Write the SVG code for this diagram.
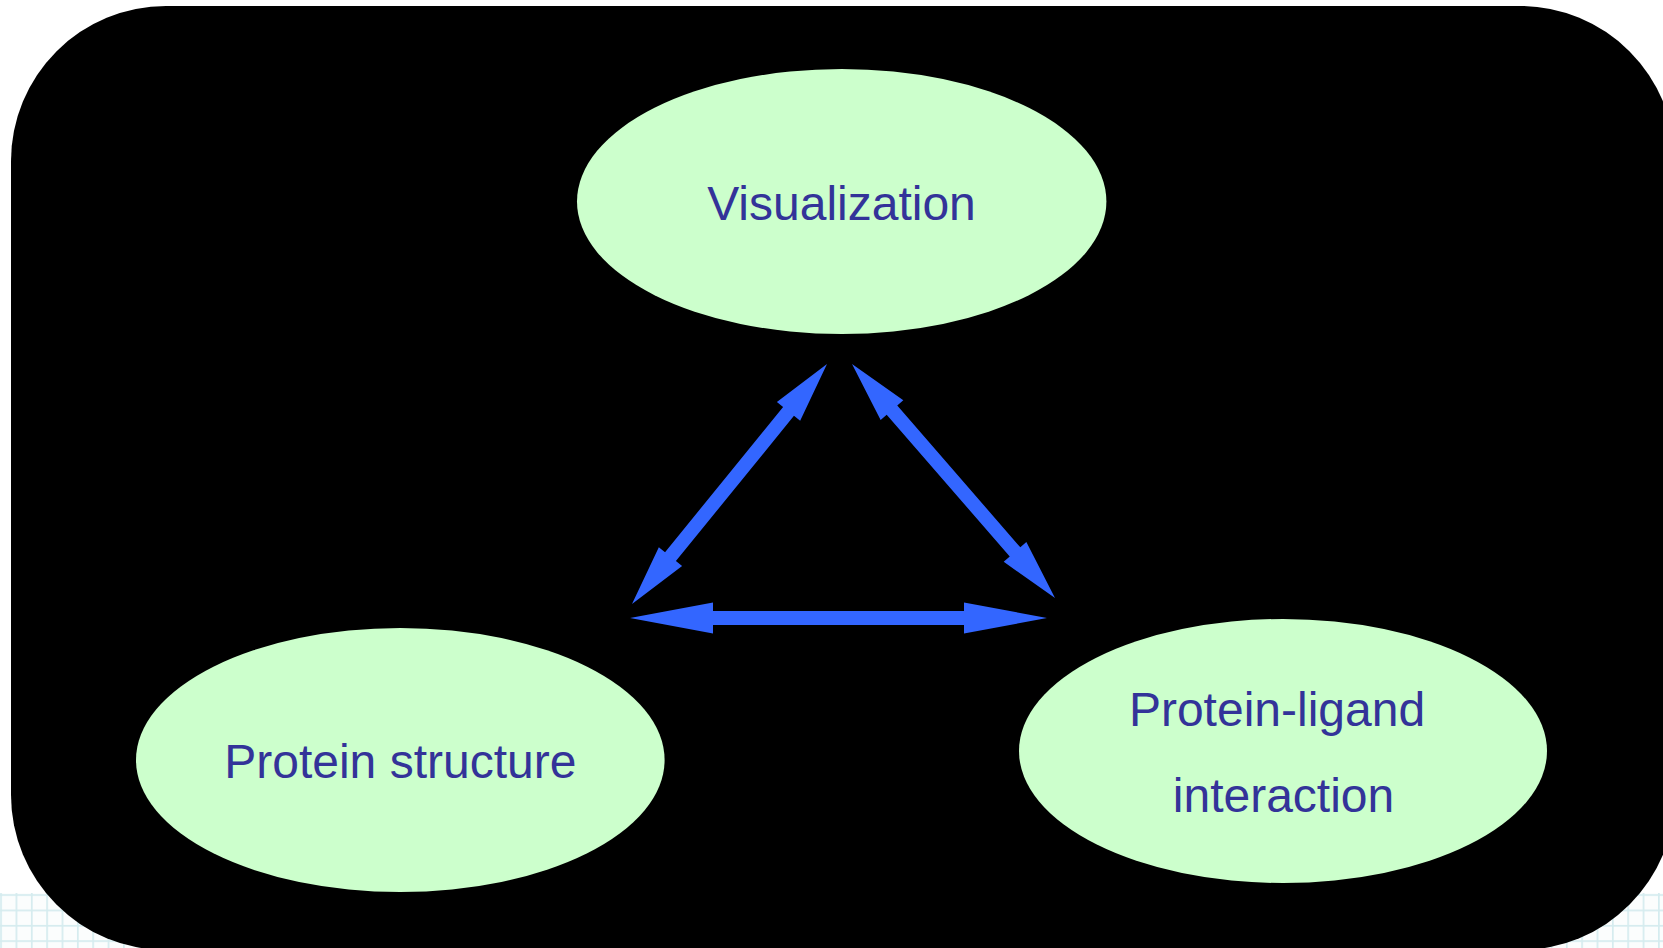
<svg xmlns="http://www.w3.org/2000/svg" width="1663" height="948" viewBox="0 0 1663 948">
  <defs>
    <pattern id="grid" patternUnits="userSpaceOnUse" x="0.2" y="894.2" width="15.35" height="15.35">
      <rect x="0" y="0" width="15.35" height="15.35" fill="#fbfdfd"/>
      <rect x="0" y="0" width="1.7" height="15.35" fill="#d5ecef"/>
      <rect x="0" y="0" width="15.35" height="1.7" fill="#d5ecef"/>
    </pattern>
    <style>
      .node { fill: #CCFFCC; }
      .label { font-family: "Liberation Sans", Arial, sans-serif; font-size: 48px; fill: #333399; text-anchor: middle; }
      .arrow { fill: #3366FF; }
    </style>
  </defs>
  <rect x="0" y="0" width="1663" height="948" fill="#ffffff"/>
  <rect x="0" y="893" width="1663" height="55" fill="url(#grid)"/>
  <rect id="panel" x="11" y="6" width="1664" height="944" rx="155" ry="155" fill="#000000"/>

  <g id="node-visualization">
    <ellipse class="node" cx="841.7" cy="201.5" rx="264.7" ry="132.5"/>
    <text class="label" x="841.5" y="220">Visualization</text>
  </g>
  <g id="node-protein-structure">
    <ellipse class="node" cx="400.3" cy="760" rx="264.3" ry="132"/>
    <text class="label" x="400.3" y="778">Protein structure</text>
  </g>
  <g id="node-protein-ligand">
    <ellipse class="node" cx="1283" cy="751" rx="264" ry="132"/>
    <text class="label" x="1277" y="726">Protein-ligand</text>
    <text class="label" x="1283.5" y="812">interaction</text>
  </g>

  <g id="connectors">
    <polygon class="arrow" transform="translate(630,618)" points="0,0 83,-15.5 83,-7 334,-7 334,-15.5 417,0 334,15.5 334,7 83,7 83,15.5"/>
    <polygon class="arrow" transform="translate(632,604) rotate(-50.9)" points="0,0 61,-15 61,-7 248.2,-7 248.2,-15 309.2,0 248.2,15 248.2,7 61,7 61,15"/>
    <polygon class="arrow" transform="translate(852,364) rotate(49.06)" points="0,0 61,-15 61,-7 248.8,-7 248.8,-15 309.8,0 248.8,15 248.8,7 61,7 61,15"/>
  </g>
</svg>
